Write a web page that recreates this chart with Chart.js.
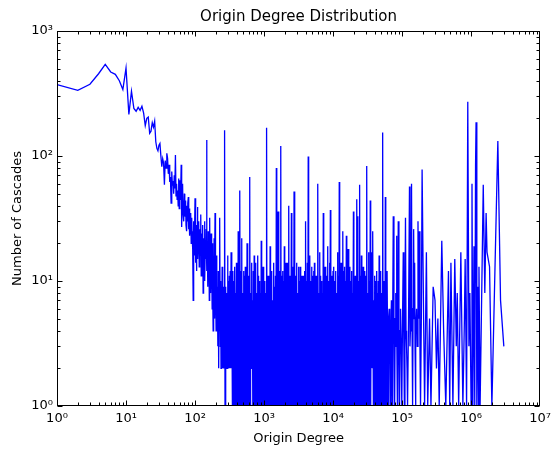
<!DOCTYPE html>
<html>
<head>
<meta charset="utf-8">
<script src="https://cdn.jsdelivr.net/npm/chart.js@4/dist/chart.umd.min.js"></script>
<style>
  html, body { margin: 0; padding: 0; background: #fff; }
  #wrap { width: 556px; height: 452px; }
</style>
</head>
<body>
<div id="wrap"><canvas id="degree-chart" width="556" height="452"></canvas></div>
<script>
// origin degree (x) and number of cascades (y)
var degrees = [
  1,2,3,4,5,6,7,8,9,10,11,12,13,14,15,16,17,18,19,20,21,22,23,24,25,26,27,28,29,30,
  31,32,33,34,35,36,37,38,39,40,41,42,43,44,45,46,47,48,49,50,51,52,53,54,55,56,57,58,59,60,
  61,62,63,64,65,66,67,68,69,70,71,72,73,74,75,76,77,78,79,80,81,82,83,84,85,86,87,88,89,90,
  91,92,93,94,95,96,97,98,99,100,101,102,103,104,105,106,107,108,109,110,
  111,113,115,117,119,121,123,125,127,129,131,133,135,137,139,141,143,145,147,149,151,153,155,157,159,
  161,163,165,167,169,171,173,175,177,179,181,183,185,187,189,191,193,195,197,199,
  202,205,208,211,214,217,220,223,226,229,232,235,238,241,244,247,250,253,256,259,262,265,268,
  272,276,280,284,288,292,296,300,305,309,314,318,323,328,333,338,343,348,353,358,364,369,375,380,386,
  392,398,404,410,416,422,428,435,441,448,454,461,468,475,482,489,496,504,511,519,527,535,543,551,559,
  567,575,584,593,602,611,620,629,638,647,657,667,677,687,698,708,719,729,740,751,
  762,773,785,797,809,821,833,845,858,871,884,897,910,924,938,952,966,980,995,1010,
  1025,1040,1056,1072,1088,1104,1120,1137,1154,1171,1188,1206,1224,1242,1261,1280,1299,1318,1338,1358,
  1378,1398,1419,1440,1462,1484,1506,1528,1551,1574,1597,1621,1645,1670,1695,1720,1746,1772,1798,1825,
  1852,1879,1907,1936,1965,1994,2024,2054,2084,2115,2147,2179,2211,2244,2278,2312,2346,2381,2416,2452,
  2489,2526,2564,2602,2641,2680,2720,2760,2801,2843,2885,2928,2972,3016,3061,3107,3153,3200,3248,3296,
  3345,3395,3445,3497,3549,3602,3655,3710,3765,3821,3878,3936,3994,4054,4114,4175,4237,4300,4364,4429,
  4495,4562,4630,4699,4769,4840,4912,4985,5060,5135,5211,5289,5368,5448,5529,5611,5694,5779,5865,5952,
  6041,6131,6222,6315,6409,6504,6601,6700,6800,6901,7004,7109,7214,7322,7430,7541,7653,7767,7883,8000,
  8119,8240,8363,8488,8614,8742,8872,9004,9138,9275,9413,9553,9695,9840,9986,10135,
  10290,10440,10600,10760,10920,11080,11240,11410,11580,11750,11930,12110,12290,12470,12660,12850,13040,13230,13430,13630,
  13830,14040,14250,14460,14670,14890,15110,15340,15570,15800,16030,16270,16510,16760,17010,17260,17520,17780,18050,18320,
  18590,18870,19150,19430,19720,20010,20310,20610,20920,21230,21550,21870,22200,22530,22860,23200,23550,23900,24250,24610,
  24980,25350,25730,26110,26500,26900,27300,27710,28120,28540,28960,29390,29830,30270,30720,31180,31640,32110,32590,33080,
  33570,34070,34580,35090,35610,36140,36680,37230,37780,38350,38920,39500,40080,40680,41290,41910,42530,43160,43800,44450,
  45110,45780,46470,47160,47860,48580,49300,50040,50780,51540,52300,53080,53870,54680,55490,56320,57150,58000,58870,59740,60630,
  62500,63700,65000,66200,67500,68700,70000,71000,72000,73200,74500,76200,78000,79500,81000,82000,83000,84200,85500,86700,
  88000,90000,92000,93500,95000,97000,99000,101500,104000,106000,108000,110000,112000,114000,116000,118000,120000,124000,128000,130000,
  132000,134500,137000,139500,142000,144500,147000,149500,152000,154000,156000,159000,162000,166000,170000,174000,178000,181500,185000,190000,
  195000,205000,212000,225000,235000,250000,262000,282000,300000,315000,
  330000,345000,376000,400000,430000,470000,490000,510000,545000,580000,610000,630000,660000,710000,760000,800000,820000,860000,895000,930000,
  960000,1000000,1030000,1060000,1100000,1130000,1160000,1180000,1210000,1250000,1280000,1300000,1350000,1500000,1580000,1650000,1700000,1850000,2000000,
  2440000,2670000,2980000
];
var cascades = [
  372,335,375,455,540,470,450,400,340,505,215,330,240,228,245,232,250,220,175,200,205,152,158,185,170,190,130,115,110,122,
  126,100,82,95,88,59,92,80,105,96,72,85,62,68,42,75,58,63,50,70,55,102,48,60,45,53,40,66,38,64,
  45,52,85,27,48,60,35,42,30,50,38,33,44,28,40,25,36,30,42,47,26,33,38,23,30,27,35,20,28,32,
  22,25,18,7,24,30,21,16,26,46,19,22,14,28,12,24,17,20,39,15,
  22,30,13,26,18,34,11,24,16,28,8,22,14,30,10,20,15,26,134,12,18,9,25,13,21,
  7,32,11,17,8,24,10,15,6,20,9,4,14,7,22,5,12,35,6,10,
  4,16,5,9,3,12,2,8,4,32,3,10,2,7,3,13,2,6,3,9,2,5,161,
  1,1,9,2,8,2,16,2,10,2,11,2,12,2,17,2,8,1,12,1,10,1,13,1,8,
  1,14,1,11,1,25,1,10,1,53,1,12,1,22,1,8,1,12,1,11,1,13,1,9,1,
  20,1,10,1,11,1,68,1,8,2,14,2,7,1,12,1,16,1,10,1,
  14,1,8,1,16,1,11,1,10,1,8,1,21,1,10,1,13,1,9,1,
  10,1,8,1,168,1,11,1,11,1,8,1,19,1,10,1,12,1,7,1,
  14,1,9,1,11,1,80,1,10,1,36,1,8,1,12,1,120,1,11,1,
  12,1,10,1,19,1,8,1,14,1,10,1,14,1,40,1,11,1,11,1,
  35,1,8,1,13,1,52,1,10,1,11,1,14,1,8,1,13,1,10,1,
  13,1,8,1,11,1,10,1,11,1,12,1,30,1,10,1,14,1,99,1,
  8,1,16,1,10,1,13,1,11,1,12,1,14,1,8,1,11,1,10,1,
  60,1,8,1,17,1,11,1,10,1,8,1,35,1,10,1,13,1,8,1,
  11,1,19,1,10,1,14,1,37,1,8,1,11,1,12,1,
  13,1,10,1,12,1,8,1,17,1,11,1,62,1,10,1,14,1,8,1,
  25,1,12,1,13,1,10,1,23,1,8,1,18,1,11,1,13,1,10,1,
  12,1,8,1,36,1,10,1,11,1,8,1,45,1,33,1,10,1,59,1,
  11,1,16,1,8,1,13,1,12,1,10,1,11,1,83,1,8,1,17,1,
  10,1,44,1,8,2,17,2,25,1,7,1,11,1,10,1,12,1,8,1,
  10,1,16,1,8,1,12,1,8,1,154,1,10,1,10,1,47,1,10,1,12,
  1,5,6,3,1,4,7,3,1,6,33,4,1,5,8,3,23,4,1,6,
  30,3,1,4,6,3,1,5,17,3,1,6,32,4,3,2,1,5,57,3,
  4,8,60,4,1,6,26,5,14,3,1,4,6,3,30,5,25,3,1,5,
  78,5,1,17,1,5,1,9,7,2,
  5,1,21,4,1,12,1,14,1,15,3,8,1,17,1,5,15,1,272,3,
  8,1,60,1,19,1,84,186,1,9,1,13,1,59,8,35,17,13,1,
  132,7,3
];
var xTickValues = [1, 10, 100, 1000, 10000, 100000, 1000000, 10000000];
var yTickValues = [1, 10, 100, 1000];
var sup = ['⁰','¹','²','³','⁴','⁵','⁶','⁷'];

var points = [];
for (var i = 0; i < degrees.length; i++) {
  points.push({x: degrees[i], y: cascades[i]});
}

function powLabel(value) {
  var e = Math.round(Math.log10(value));
  return '10' + sup[e];
}

// frame with inward major/minor ticks on all four sides (matplotlib classic look)
var frameTicks = {
  id: 'frameTicks',
  afterDraw: function(chart) {
    var ctx = chart.ctx, a = chart.chartArea;
    var xs = chart.scales.x, ys = chart.scales.y;
    var L = Math.round(a.left) + 0.5, R = Math.round(a.right) - 0.5;
    var T = Math.round(a.top) + 0.5, B = Math.round(a.bottom) - 0.5;
    ctx.save();
    ctx.strokeStyle = '#000';
    ctx.lineWidth = 1;
    ctx.beginPath();
    for (var e = 0; e < 7; e++) {
      for (var m = 1; m < 10; m++) {
        var len = (m === 1) ? 5 : 3;
        var px = Math.round(xs.getPixelForValue(m * Math.pow(10, e))) + 0.5;
        ctx.moveTo(px, B); ctx.lineTo(px, B - len);
        ctx.moveTo(px, T); ctx.lineTo(px, T + len);
      }
    }
    for (var e2 = 0; e2 < 3; e2++) {
      for (var m2 = 1; m2 < 10; m2++) {
        var len2 = (m2 === 1) ? 5 : 3;
        var py = Math.round(ys.getPixelForValue(m2 * Math.pow(10, e2))) + 0.5;
        ctx.moveTo(L, py); ctx.lineTo(L + len2, py);
        ctx.moveTo(R, py); ctx.lineTo(R - len2, py);
      }
    }
    ctx.stroke();
    ctx.strokeRect(L, T, R - L, B - T);
    ctx.restore();
  }
};

var ctx = document.getElementById('degree-chart');

var config = {
  type: 'line',
  data: {
    datasets: [{
      label: 'cascades',
      data: points,
      borderColor: '#0000ff',
      borderWidth: 1.3,
      pointRadius: 0,
      tension: 0,
      fill: false
    }]
  },
  options: {
    responsive: false,
    animation: false,
    events: [],
    layout: { padding: { left: 0, right: 15, top: 0, bottom: 0 } },
    plugins: {
      legend: { display: false },
      tooltip: { enabled: false },
      title: {
        display: true,
        fullSize: false,
        text: 'Origin Degree Distribution',
        color: '#000',
        font: { family: 'DejaVu Sans', size: 15, weight: 'normal' },
        padding: { top: 8, bottom: 5 }
      }
    },
    scales: {
      x: {
        type: 'logarithmic',
        min: 1,
        max: 10000000,
        grid: { display: false, drawTicks: false },
        border: { display: false },
        afterBuildTicks: function(scale) {
          scale.ticks = xTickValues.map(function(v) { return {value: v}; });
        },
        afterFit: function(scale) { scale.height = 46; },
        ticks: {
          autoSkip: false,
          maxRotation: 0,
          color: '#000',
          padding: 5,
          font: { family: 'DejaVu Sans', size: 13 },
          callback: function(value) { return powLabel(value); }
        },
        title: {
          display: true,
          text: 'Origin Degree',
          color: '#000',
          font: { family: 'DejaVu Sans', size: 13 },
          padding: { top: 0, bottom: 6 }
        }
      },
      y: {
        type: 'logarithmic',
        min: 1,
        max: 1000,
        grid: { display: false, drawTicks: false },
        border: { display: false },
        afterBuildTicks: function(scale) {
          scale.ticks = yTickValues.map(function(v) { return {value: v}; });
        },
        afterFit: function(scale) { scale.width = 57; },
        ticks: {
          autoSkip: false,
          color: '#000',
          padding: 4,
          font: { family: 'DejaVu Sans', size: 13 },
          callback: function(value) { return powLabel(value); }
        },
        title: {
          display: true,
          text: 'Number of Cascades',
          color: '#000',
          font: { family: 'DejaVu Sans', size: 13 },
          padding: { top: 10, bottom: 0 }
        }
      }
    }
  },
  plugins: [frameTicks]
};

// Create the chart
var degreeChart = new Chart(ctx, config);
</script>
</body>
</html>
